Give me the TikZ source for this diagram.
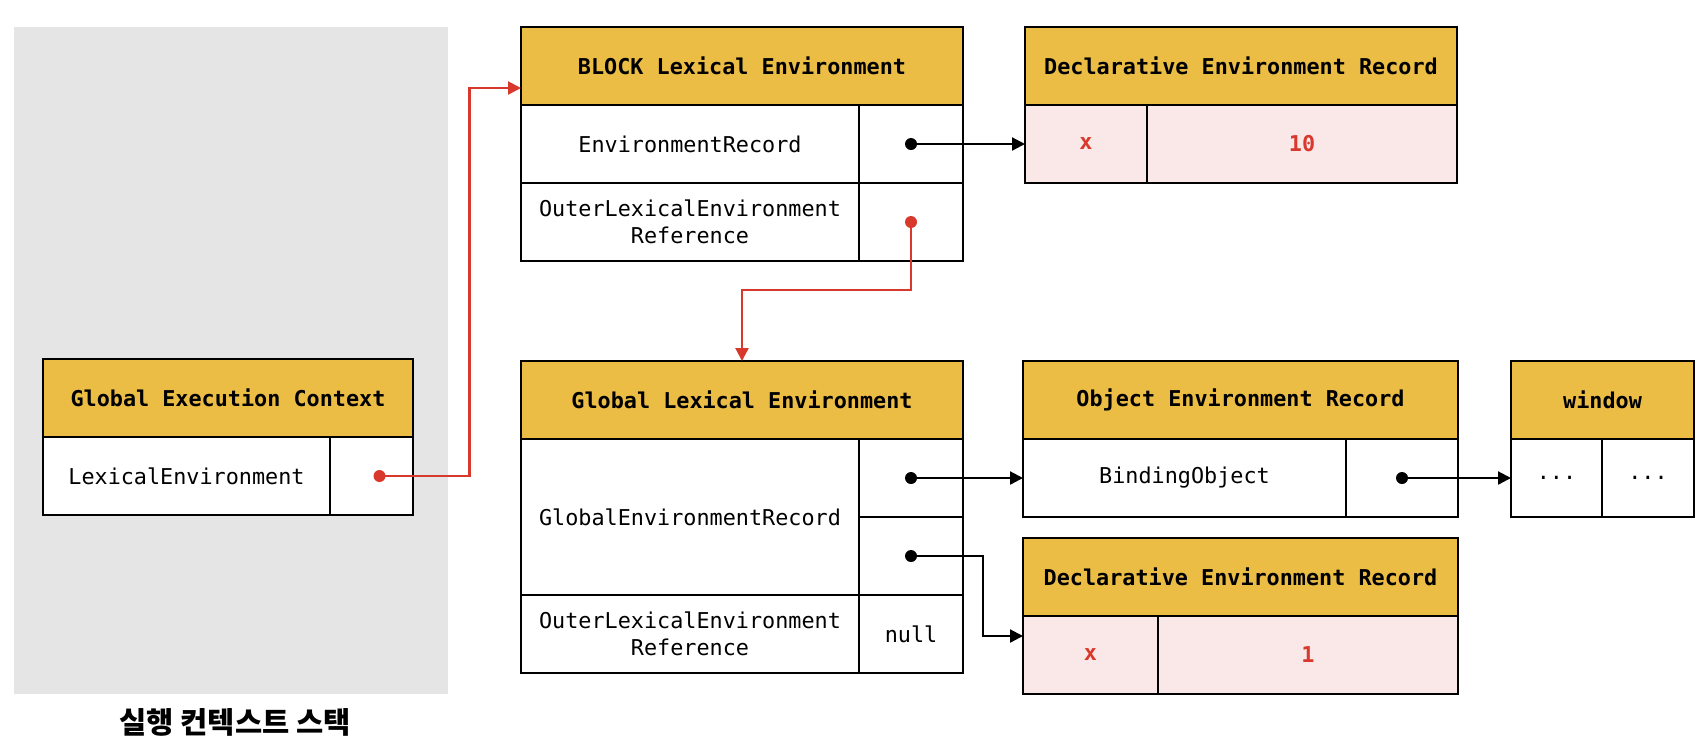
\documentclass[tikz,border=0pt]{standalone}
\usepackage{fontspec}
\setmonofont{DejaVu Sans Mono}
\newfontfamily\krfont{Noto Sans CJK KR}
\usetikzlibrary{arrows.meta}

\definecolor{headyellow}{RGB}{235,189,69}
\definecolor{recpink}{RGB}{250,232,232}
\definecolor{valred}{RGB}{216,57,44}
\definecolor{panelgray}{RGB}{230,229,230}

\tikzset{
    cell/.style = {draw, fill=white, line width=1.1pt, anchor=north west, minimum height=39pt,
        inner sep=0pt, outer sep=0pt, align=center, font=\ttfamily\fontsize{10.9}{13.5}\selectfont},
    headcell/.style = {cell, fill=headyellow, font=\ttfamily\bfseries\fontsize{10.9}{13.5}\selectfont},
    valcell/.style = {cell, fill=recpink, text=valred, font=\ttfamily\bfseries\fontsize{10.9}{13.5}\selectfont},
    ptrdot/.style = {circle, fill, inner sep=0pt, minimum size=6pt},
    ptr/.style = {line width=1.1pt, -{Triangle[length=6.5pt,width=6.5pt]}},
    redptr/.style = {ptr, color=valred}
}

\begin{document}
\begin{tikzpicture}[x=0.5pt,y=-0.5pt]
    \useasboundingbox (0,0) rectangle (1706,752);

    % execution context stack
    \node[fill=panelgray, anchor=north west, minimum width=217pt, minimum height=333.5pt, inner sep=0pt] (stack) at (14,27) {};
    \node[font=\krfont\bfseries\fontsize{14.8}{16}\selectfont] (stacklabel) at (235,722) {실행 컨텍스트 스택};

    \node[headcell, minimum width=185pt] (gechead) at (43,359) {Global Execution Context};
    \node[cell, minimum width=143.5pt] (geclex) at (43,437) {LexicalEnvironment};
    \node[cell, minimum width=41.5pt] (gecval) at (330,437) {};

    % block lexical environment
    \node[headcell, minimum width=221pt] (blockhead) at (521,27) {BLOCK Lexical Environment};
    \node[cell, minimum width=169pt] (blockrec) at (521,105) {EnvironmentRecord};
    \node[cell, minimum width=52pt] (blockrecval) at (859,105) {};
    \node[cell, minimum width=169pt] (blockouter) at (521,183) {OuterLexicalEnvironment\\Reference};
    \node[cell, minimum width=52pt] (blockouterval) at (859,183) {};

    \node[headcell, minimum width=216pt] (decl1head) at (1025,27) {Declarative Environment Record};
    \node[valcell, minimum width=61pt] (decl1x) at (1025,105) {x};
    \node[valcell, minimum width=155pt] (decl1val) at (1147,105) {10};

    % global lexical environment
    \node[headcell, minimum width=221pt] (glexhead) at (521,361) {Global Lexical Environment};
    \node[cell, minimum width=169pt, minimum height=78pt] (glexrec) at (521,439) {GlobalEnvironmentRecord};
    \node[cell, minimum width=52pt] (glexobj) at (859,439) {};
    \node[cell, minimum width=52pt] (glexdecl) at (859,517) {};
    \node[cell, minimum width=169pt] (glexouter) at (521,595) {OuterLexicalEnvironment\\Reference};
    \node[cell, minimum width=52pt] (glexnull) at (859,595) {null};

    \node[headcell, minimum width=217.5pt] (objhead) at (1023,361) {Object Environment Record};
    \node[cell, minimum width=161.5pt] (objbind) at (1023,439) {BindingObject};
    \node[cell, minimum width=56pt] (objval) at (1346,439) {};

    \node[headcell, minimum width=91.5pt] (winhead) at (1511,361) {window};
    \node[cell, minimum width=45.5pt] (winkey) at (1511,439) {...};
    \node[cell, minimum width=46pt] (winval) at (1602,439) {...};

    \node[headcell, minimum width=217.5pt] (decl2head) at (1023,538) {Declarative Environment Record};
    \node[valcell, minimum width=67.5pt] (decl2x) at (1023,616) {x};
    \node[valcell, minimum width=150pt] (decl2val) at (1158,616) {1};

    % pointers
    \node[ptrdot, valred] (gecdot) at ([xshift=4pt]gecval.center) {};
    \node[ptrdot, valred] (outerdot) at (blockouterval.center) {};
    \node[ptrdot] (recdot) at (blockrecval.center) {};
    \node[ptrdot] (objdot) at (glexobj.center) {};
    \node[ptrdot] (decldot) at (glexdecl.center) {};
    \node[ptrdot] (windot) at (objval.center) {};

    \draw[redptr] (gecdot.center) -- ++(90,0) |- ([yshift=-11pt]blockhead.west);
    \draw[redptr] (outerdot.center) -- ++(0,68) -| (glexhead.north);
    \draw[ptr] (recdot.center) -- (decl1x.west);
    \draw[ptr] (objdot.center) -- (objbind.west);
    \draw[ptr] (decldot.center) -- ++(72,0) |- ([yshift=9.5pt]decl2x.west);
    \draw[ptr] (windot.center) -- (winkey.west);
\end{tikzpicture}
\end{document}
